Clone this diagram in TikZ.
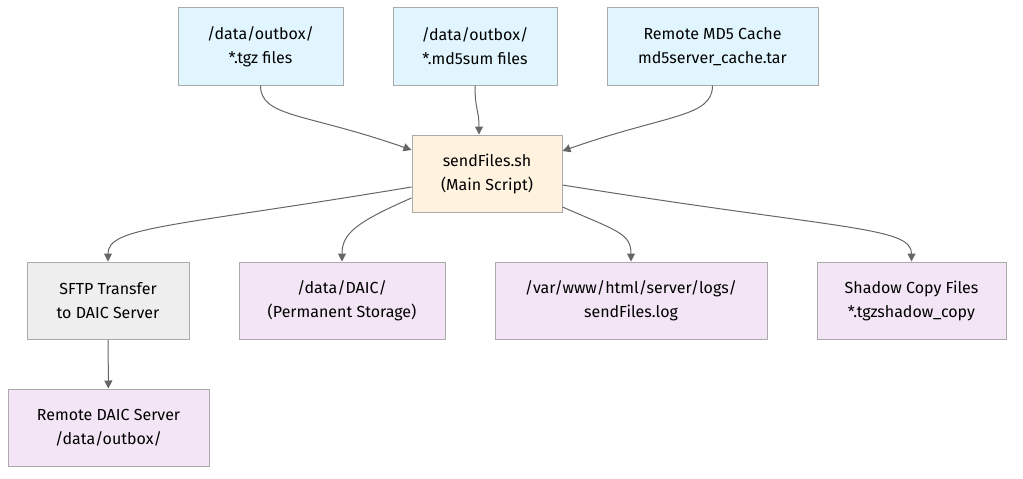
\documentclass[tikz,border=0pt]{standalone}
\usepackage{fontspec}
\setmainfont{Fira Sans}
\usetikzlibrary{positioning,calc,arrows.meta}

\definecolor{srcfill}{HTML}{E1F5FE}
\definecolor{mainfill}{HTML}{FFF3E0}
\definecolor{outfill}{HTML}{F3E5F5}
\definecolor{xferfill}{HTML}{EEEEEE}
\definecolor{boxline}{HTML}{AAAAAA}
\definecolor{flowline}{HTML}{666666}

\begin{document}
\begin{tikzpicture}[
	x=0.75pt, y=-0.75pt
	,box/.style={draw=boxline, line width=0.75pt, rectangle, align=center, inner sep=0pt,
		minimum height=57.75pt, font=\fontsize{12}{18}\selectfont}
	,src/.style={box, fill=srcfill}
	,script/.style={box, fill=mainfill}
	,dest/.style={box, fill=outfill}
	,xfer/.style={box, fill=xferfill}
	,flow/.style={draw=flowline, line width=0.75pt, -{Triangle[length=6pt, width=6pt]}}
]
	\useasboundingbox (0,0) rectangle (1023,478);

	\node[src, minimum width=123.75pt] (tgz) at (260.5,46.5) {/data/outbox/\\*.tgz files};
	\node[src, minimum width=123pt] (md5) at (475,46.5) {/data/outbox/\\*.md5sum files};
	\node[src, minimum width=158.25pt] (cache) at (712.5,46.5) {Remote MD5 Cache\\md5server\_cache.tar};
	\node[script, minimum width=112.5pt] (main) at (487,173.5) {sendFiles.sh\\(Main Script)};
	\node[xfer, minimum width=121.5pt] (sftp) at (108,300.5) {SFTP Transfer\\to DAIC Server};
	\node[dest, minimum width=154.5pt] (daic) at (342,300.5) {/data/DAIC/\\(Permanent Storage)};
	\node[dest, minimum width=204pt] (logs) at (631,300.5) {/var/www/html/server/logs/\\sendFiles.log};
	\node[dest, minimum width=141.75pt] (shadow) at (911.5,300.5) {Shadow Copy Files\\*.tgzshadow\_copy};
	\node[dest, minimum width=150.75pt] (remote) at (108.5,427.5) {Remote DAIC Server\\/data/outbox/};

	% inputs
	\draw[flow] (tgz.south) .. controls +(0,32) and +(-105,-37) .. ($(main.west)+(0,-23.5)$);
	\draw[flow] (md5.south) .. controls +(0,25) and +(0,-25) .. ($(main.north)+(-8,0)$);
	\draw[flow] (cache.south) .. controls +(0,32) and +(105,-37) .. ($(main.east)+(0,-22.5)$);

	% outputs
	\draw[flow] ($(main.west)+(0,13.5)$) .. controls +(-240,40) and +(0,-35) .. (sftp.north);
	\draw[flow] ($(main.west)+(0,24.5)$) .. controls +(-55,24) and +(0,-28) .. (daic.north);
	\draw[flow] ($(main.east)+(0,33.5)$) .. controls +(55,24) and +(0,-28) .. (logs.north);
	\draw[flow] ($(main.east)+(0,11.5)$) .. controls +(280,45) and +(0,-35) .. (shadow.north);
	\draw[flow] (sftp) -- (remote);
\end{tikzpicture}
\end{document}
